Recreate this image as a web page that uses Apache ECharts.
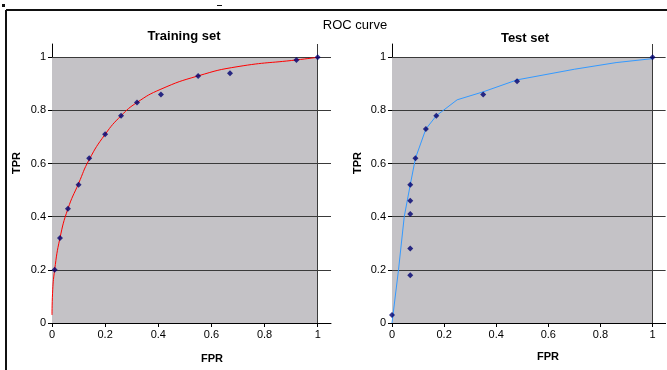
<!DOCTYPE html>
<html>
<head>
<meta charset="utf-8">
<script src="https://cdn.jsdelivr.net/npm/echarts@6/dist/echarts.min.js"></script>
<style>
  html, body { margin: 0; padding: 0; background: #fff; }
  #chart { width: 667px; height: 370px; }
</style>
</head>
<body>
<div id="chart"></div>
<script>
// values
const tickValues = [0, 0.2, 0.4, 0.6, 0.8, 1]
const gridLines = [0.2, 0.4, 0.6, 0.8, 1]

const trainPoints = [
  [0.01, 0.2], [0.03, 0.32], [0.06, 0.43], [0.1, 0.52], [0.14, 0.62],
  [0.2, 0.71], [0.26, 0.78], [0.32, 0.83], [0.41, 0.86], [0.55, 0.93],
  [0.67, 0.94], [0.92, 0.99], [1, 1]
]
const trainCurve = [
  [0, 0.03], [0.002, 0.11], [0.01, 0.2], [0.03, 0.32], [0.06, 0.43],
  [0.1, 0.525], [0.14, 0.615], [0.2, 0.71], [0.26, 0.78], [0.32, 0.83],
  [0.41, 0.88], [0.55, 0.93], [0.7, 0.965], [0.92, 0.99], [1, 1]
]

const testPoints = [
  [0, 0.03], [0.07, 0.18], [0.07, 0.28], [0.07, 0.41], [0.07, 0.46],
  [0.07, 0.52], [0.09, 0.62], [0.13, 0.73], [0.17, 0.78], [0.35, 0.86],
  [0.48, 0.91], [1, 1]
]
const testCurve = [
  [0, 0], [0.025, 0.2], [0.047, 0.4], [0.07, 0.52], [0.09, 0.62],
  [0.13, 0.73], [0.17, 0.78], [0.25, 0.84], [0.35, 0.87], [0.48, 0.915],
  [0.7, 0.955], [0.86, 0.98], [1, 0.995]
]

const FONT = 'Liberation Sans, Arial, sans-serif'
const PLOT_BG = '#c4c2c6'
const GRID_COLOR = '#3a3a3a'
const MARKER = '#000070'

function makeAxis(gridIndex) {
  return {
    type: 'value', gridIndex, min: 0, max: 1.05, interval: 0.2,
    axisLine: { show: true, onZero: false, lineStyle: { color: '#000', width: 1 } },
    axisTick: { show: true, length: 4, customValues: tickValues, lineStyle: { color: '#000' } },
    axisLabel: { customValues: tickValues, color: '#000', fontSize: 11, fontFamily: FONT, margin: 6 },
    splitLine: { show: false }
  }
}

// plot background and grid lines hang off the curve series
function plotDecor() {
  return {
    markArea: {
      silent: true, z: 1,
      itemStyle: { color: PLOT_BG },
      data: [[{ xAxis: 0, yAxis: 0 }, { xAxis: 1, yAxis: 1 }]]
    },
    markLine: {
      silent: true, symbol: 'none', animation: false, z: 2,
      label: { show: false },
      lineStyle: { color: GRID_COLOR, width: 1, type: 'solid' },
      data: gridLines.map(v => ({ yAxis: v })).concat([{ xAxis: 1 }])
    }
  }
}

const chart = echarts.init(document.getElementById('chart'))
chart.setOption({
  animation: false,
  backgroundColor: '#fff',
  grid: [
    { left: 52, top: 44, width: 279, height: 279 },
    { left: 392, top: 44, width: 273.6, height: 279 }
  ],
  xAxis: [makeAxis(0), makeAxis(1)],
  yAxis: [makeAxis(0), makeAxis(1)],
  series: [
    Object.assign({
      type: 'line', xAxisIndex: 0, yAxisIndex: 0, data: trainCurve, smooth: true,
      showSymbol: false, z: 10, lineStyle: { color: '#ff0000', width: 1 }
    }, plotDecor()),
    {
      type: 'scatter', xAxisIndex: 0, yAxisIndex: 0, data: trainPoints, z: 11,
      symbol: 'diamond', symbolSize: 6, itemStyle: { color: MARKER }
    },
    Object.assign({
      type: 'line', xAxisIndex: 1, yAxisIndex: 1, data: testCurve, smooth: false,
      showSymbol: false, z: 10, lineStyle: { color: '#3399ff', width: 1 }
    }, plotDecor()),
    {
      type: 'scatter', xAxisIndex: 1, yAxisIndex: 1, data: testPoints, z: 11,
      symbol: 'diamond', symbolSize: 6, itemStyle: { color: MARKER }
    }
  ],
  graphic: [
    { type: 'line', shape: { x1: 6, y1: 10, x2: 667, y2: 10 }, style: { stroke: '#111', lineWidth: 2 } },
    { type: 'line', shape: { x1: 6, y1: 10, x2: 6, y2: 370 }, style: { stroke: '#111', lineWidth: 2 } },
    { type: 'rect', shape: { x: 2, y: 4, width: 3, height: 3 }, style: { fill: '#111' } },
    { type: 'rect', shape: { x: 217, y: 5, width: 5, height: 1 }, style: { fill: '#111' } },
    { type: 'text', x: 355, y: 25, style: { text: 'ROC curve', font: '13px ' + FONT, fill: '#000', align: 'center', verticalAlign: 'middle' } },
    { type: 'text', x: 184, y: 36, style: { text: 'Training set', font: 'bold 13px ' + FONT, fill: '#000', align: 'center', verticalAlign: 'middle' } },
    { type: 'text', x: 525, y: 38, style: { text: 'Test set', font: 'bold 13px ' + FONT, fill: '#000', align: 'center', verticalAlign: 'middle' } },
    { type: 'text', x: 17, y: 163, rotation: Math.PI / 2, style: { text: 'TPR', font: 'bold 11px ' + FONT, fill: '#000', align: 'center', verticalAlign: 'middle' } },
    { type: 'text', x: 358, y: 163, rotation: Math.PI / 2, style: { text: 'TPR', font: 'bold 11px ' + FONT, fill: '#000', align: 'center', verticalAlign: 'middle' } },
    { type: 'text', x: 212, y: 359, style: { text: 'FPR', font: 'bold 11px ' + FONT, fill: '#000', align: 'center', verticalAlign: 'middle' } },
    { type: 'text', x: 548, y: 357, style: { text: 'FPR', font: 'bold 11px ' + FONT, fill: '#000', align: 'center', verticalAlign: 'middle' } }
  ]
})
</script>
</body>
</html>
